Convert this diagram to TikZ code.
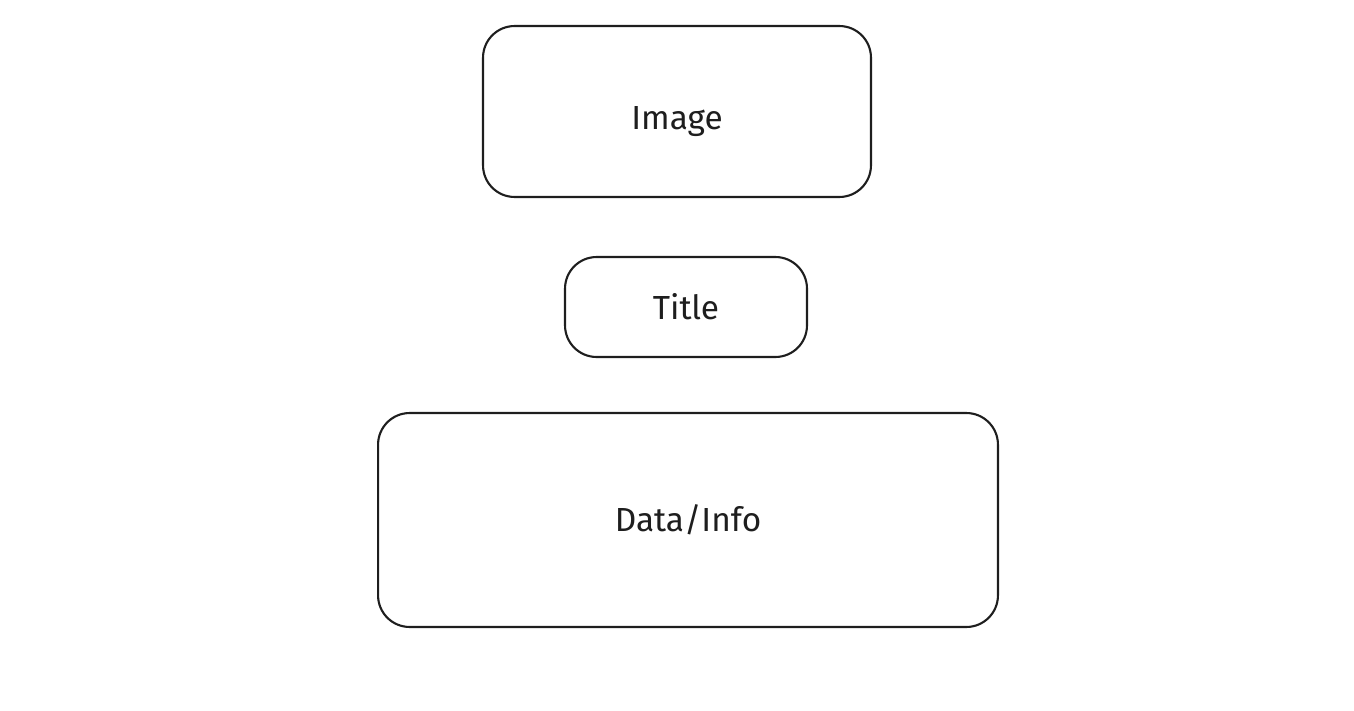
\documentclass[tikz,border=0pt]{standalone}
\usepackage{fontspec}
\setmainfont{Fira Sans}
\definecolor{ink}{HTML}{1E1E1E}
\begin{document}
\begin{tikzpicture}[x=0.02cm,y=-0.02cm]

      \useasboundingbox (0,0) rectangle (1354,710);

      \begin{scope}[every node/.style={draw=ink, line width=1.2pt, rounded corners=18, inner sep=0pt,
          text=ink, font=\fontsize{19}{22}\selectfont}]
        \node[minimum width=7.76cm, minimum height=3.42cm, text height=0.85cm] (image) at (677,111.5) {Image};
        \node[minimum width=4.84cm, minimum height=2.00cm] (title) at (686,307) {Title};
        \node[minimum width=12.40cm, minimum height=4.28cm] (data) at (688,520) {Data/Info};
      \end{scope}

    \end{tikzpicture}
\end{document}
